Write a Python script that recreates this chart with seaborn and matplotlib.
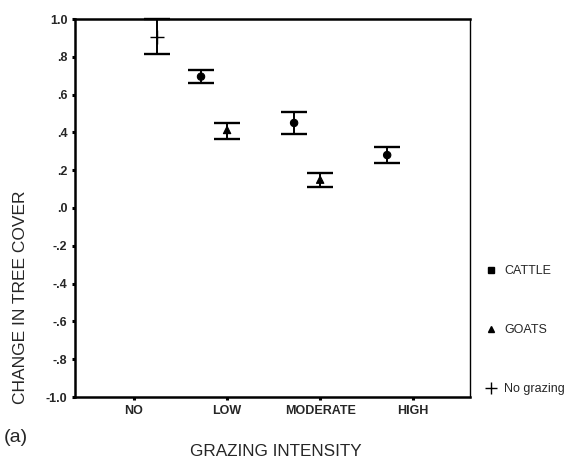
import numpy as np
import pandas as pd
import matplotlib
matplotlib.use("Agg")
import matplotlib.pyplot as plt
import seaborn as sns
from matplotlib.lines import Line2D
from matplotlib.ticker import FixedLocator

# categories on the x axis
intensity = ["NO", "LOW", "MODERATE", "HIGH"]

# group, intensity, mean, lower, upper
groups = ["No grazing", "CATTLE", "GOATS", "CATTLE", "GOATS", "CATTLE"]
levels = ["NO", "LOW", "LOW", "MODERATE", "MODERATE", "HIGH"]
means = [0.905, 0.695, 0.413, 0.450, 0.150, 0.280]
lower = [0.813, 0.661, 0.367, 0.390, 0.113, 0.238]
upper = [1.000, 0.732, 0.448, 0.508, 0.187, 0.324]

yticks = [1.0, 0.8, 0.6, 0.4, 0.2, 0.0, -0.2, -0.4, -0.6, -0.8, -1.0]
ytick_labels = ["1.0", ".8", ".6", ".4", ".2", ".0", "-.2", "-.4", "-.6", "-.8", "-1.0"]

dodge = {"CATTLE": -0.28, "GOATS": 0.0, "No grazing": 0.25}

df = pd.DataFrame({"group": groups, "level": levels, "mean": means,
                   "lower": lower, "upper": upper})
df["x"] = [intensity.index(l) + dodge[g] for l, g in zip(df["level"], df["group"])]

sns.set_style("white")
plt.rcParams["font.family"] = ["Liberation Sans", "DejaVu Sans"]

fig = plt.figure(figsize=(5.73, 4.59), dpi=100)
ax = fig.add_axes([75 / 573, 1 - 397 / 459, (470 - 75) / 573, (397 - 19) / 459])

# error bars
eb = ax.errorbar(df["x"], df["mean"],
                 yerr=[df["mean"] - df["lower"], df["upper"] - df["mean"]],
                 fmt="none", ecolor="black", elinewidth=1.4, capsize=9.5,
                 capthick=1.7, zorder=4)
for artist in eb.lines[1] + eb.lines[2]:
    artist.set_clip_on(False)

filled = df[df["group"] != "No grazing"]
sns.scatterplot(data=filled, x="x", y="mean", style="group",
                markers={"CATTLE": "o", "GOATS": "^"}, color="black", s=28,
                linewidth=0.8, edgecolor="black", legend=False, ax=ax, zorder=3)
nograze = df[df["group"] == "No grazing"]
sns.scatterplot(data=nograze, x="x", y="mean", marker="+", color="black",
                s=110, linewidth=1.0, legend=False, ax=ax, zorder=3)

ax.set_xlim(-0.634, 3.61)
ax.set_ylim(-1.0, 1.0)
ax.xaxis.set_major_locator(FixedLocator(range(len(intensity))))
ax.set_xticklabels(intensity, fontsize=9, fontweight="bold")
ax.set_yticks(yticks)
ax.set_yticklabels(ytick_labels, fontsize=9, fontweight="bold")
ax.tick_params(axis="both", direction="out", length=2.5, width=2.2, color="black",
               pad=3, left=True, bottom=True)
ax.set_xlabel("")
ax.set_ylabel("")

for side in ["left", "bottom", "top"]:
    ax.spines[side].set_linewidth(1.8)
    ax.spines[side].set_color("black")
ax.spines["right"].set_linewidth(1.0)
ax.spines["right"].set_color("black")

fig.text(21 / 573, 1 - 297 / 459, "CHANGE IN TREE COVER", rotation=90,
         ha="center", va="center", fontsize=12.5)
fig.text(276 / 573, 1 - 452 / 459, "GRAZING INTENSITY", ha="center",
         va="center", fontsize=12.3)
fig.text(4 / 573, 1 - 438 / 459, "(a)", ha="left", va="center", fontsize=14)

handles = [
    Line2D([], [], marker="s", color="black", linestyle="none", markersize=4.5),
    Line2D([], [], marker="^", color="black", linestyle="none", markersize=4.5),
    Line2D([], [], marker="+", color="black", linestyle="none", markersize=9,
           markeredgewidth=1),
]
fig.legend(handles, ["CATTLE", "GOATS", "No grazing"], loc="center left",
           bbox_to_anchor=(473 / 573, 1 - 330 / 459), frameon=False,
           fontsize=9, labelspacing=3.75, handletextpad=0.6, handlelength=1.0)

fig.savefig("out.png", dpi=100)
